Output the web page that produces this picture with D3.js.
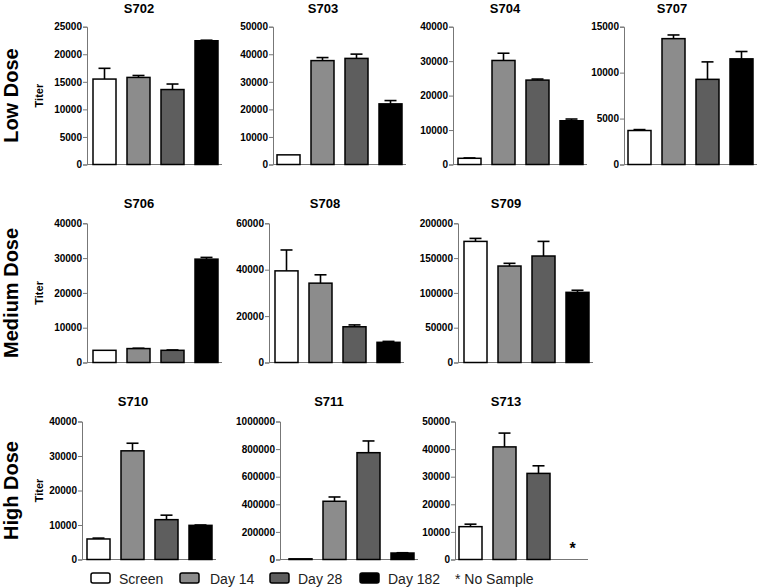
<!DOCTYPE html>
<html>
<head>
<meta charset="utf-8">
<script src="https://cdn.jsdelivr.net/npm/d3@7"></script>
<style>
  html, body { margin: 0; padding: 0; background: #fff; }
  svg { display: block; font-family: "Liberation Sans", Arial, sans-serif; }
</style>
</head>
<body>
<svg id="chart" width="760" height="587"></svg>
<script>
// ---------------- DATA ----------------
const groups = ["Screen", "Day 14", "Day 28", "Day 182"];
const subjects = ["S702", "S703", "S704", "S707", "S706", "S708", "S709", "S710", "S711", "S713"];
const doseLabels = ["Low Dose", "Medium Dose", "High Dose"];
const subjectRow = [0, 0, 0, 0, 1, 1, 1, 2, 2, 2];

const screenVals = [15500, 3500, 1800, 3700, 3500, 39500, 174000, 5950, 5000, 11900];
const day14Vals  = [15800, 37700, 30200, 13700, 4000, 34200, 138600, 31500, 422000, 40800];
const day28Vals  = [13600, 38500, 24500, 9270, 3500, 15400, 153000, 11550, 774000, 31200];
const day182Vals = [22450, 22000, 12700, 11500, 29700, 8700, 100800, 9900, 47000, null];

const screenErr = [1950, 0, 100, 100, 0, 9000, 4300, 250, 0, 900];
const day14Err  = [350, 1100, 2100, 400, 100, 3600, 3900, 2200, 31000, 5000];
const day28Err  = [1000, 1550, 300, 1900, 100, 800, 21000, 1300, 85000, 2750];
const day182Err = [100, 1200, 500, 800, 500, 400, 3000, 100, 2000, 0];

const yMaxVals  = [25000, 50000, 40000, 15000, 40000, 60000, 200000, 40000, 1000000, 50000];
const tickSteps = [5000, 10000, 10000, 5000, 10000, 20000, 50000, 10000, 200000, 10000];

const legendLabels = ["Screen", "Day 14", "Day 28", "Day 182"];
const noSampleNote = "* No Sample";

// ---------------- LAYOUT / STYLE ----------------
const fills = ["#ffffff", "#8c8c8c", "#5e5e5e", "#000000"];
const rowTop = [26.7, 223.3, 421.5];
const rowBottom = [164.5, 362.5, 559.5];
const titleY = [8, 203, 401];
const axisX = [87, 273, 453, 624, 87, 269, 458, 82, 280, 455];
const firstBarX = [93, 277, 458, 628, 93, 275, 464, 87, 289, 459];
const titleX = [139, 323, 505, 672, 139, 325, 506, 133, 329, 506];
const bandSpan = 125;

const svg = d3.select("#chart");
const seriesVals = [screenVals, day14Vals, day28Vals, day182Vals];
const seriesErr = [screenErr, day14Err, day28Err, day182Err];

// Row labels and Titer labels
doseLabels.forEach((lab, r) => {
  const cy = (rowTop[r] + rowBottom[r]) / 2;
  svg.append("text")
    .attr("transform", `translate(18,${cy}) rotate(-90)`)
    .attr("text-anchor", "middle")
    .attr("font-size", 20).attr("font-weight", "bold").attr("fill", "#000")
    .text(lab);
  svg.append("text")
    .attr("transform", `translate(43,${cy}) rotate(-90)`)
    .attr("text-anchor", "middle")
    .attr("font-size", 11).attr("font-weight", "bold").attr("fill", "#000")
    .text("Titer");
});

subjects.forEach((subj, i) => {
  const r = subjectRow[i];
  const y = d3.scaleLinear().domain([0, yMaxVals[i]]).range([rowBottom[r], rowTop[r]]);
  const x = d3.scaleBand().domain(groups)
    .range([firstBarX[i], firstBarX[i] + bandSpan])
    .paddingInner(11 / 34).paddingOuter(0);

  const g = svg.append("g");

  g.append("text")
    .attr("x", titleX[i]).attr("y", titleY[r])
    .attr("dy", "0.35em")
    .attr("text-anchor", "middle")
    .attr("font-size", 13).attr("font-weight", "bold")
    .text(subj);

  const yAxis = d3.axisLeft(y)
    .tickValues(d3.range(0, yMaxVals[i] + 1, tickSteps[i]))
    .tickFormat(d3.format("d"))
    .tickSize(4).tickPadding(1);
  const ag = g.append("g").attr("transform", `translate(${axisX[i]},0)`).call(yAxis);
  ag.select(".domain").attr("stroke", "#777").attr("stroke-width", 1);
  ag.selectAll(".tick line").attr("stroke", "#777");
  ag.selectAll(".tick text").attr("font-size", 10).attr("font-weight", "bold")
    .attr("fill", "#000").attr("font-family", "'Liberation Sans', Arial, sans-serif");

  const xEnd = x.range()[1] + 4;
  g.append("line")
    .attr("x1", axisX[i]).attr("x2", xEnd)
    .attr("y1", y(0)).attr("y2", y(0))
    .attr("stroke", "#777").attr("stroke-width", 1);

  groups.forEach((grp, k) => {
    const v = seriesVals[k][i];
    const cx = x(grp) + x.bandwidth() / 2;
    if (v === null) {
      g.append("text")
        .attr("x", cx).attr("y", y(0) - 6)
        .attr("text-anchor", "middle")
        .attr("font-size", 16).attr("font-weight", "bold")
        .text("*");
      return;
    }
    const e = seriesErr[k][i];
    if (e > 0) {
      g.append("line")
        .attr("x1", cx).attr("x2", cx)
        .attr("y1", y(v)).attr("y2", y(v + e))
        .attr("stroke", "#000").attr("stroke-width", 1.6);
      g.append("line")
        .attr("x1", cx - 6).attr("x2", cx + 6)
        .attr("y1", y(v + e)).attr("y2", y(v + e))
        .attr("stroke", "#000").attr("stroke-width", 1.6);
    }
    g.append("rect")
      .attr("x", x(grp)).attr("width", x.bandwidth())
      .attr("y", y(v)).attr("height", y(0) - y(v))
      .attr("fill", fills[k])
      .attr("stroke", "#000").attr("stroke-width", 1.5);
  });
});

// Legend
const legBoxX = [91, 180, 270, 360];
const legTextX = [119, 210, 298, 388];
legendLabels.forEach((lab, k) => {
  svg.append("rect")
    .attr("x", legBoxX[k]).attr("y", 573)
    .attr("width", 19).attr("height", 10)
    .attr("rx", 2).attr("ry", 2)
    .attr("fill", fills[k]).attr("stroke", "#000").attr("stroke-width", 1.5);
  svg.append("text")
    .attr("x", legTextX[k]).attr("y", 584)
    .attr("font-size", 14).attr("fill", "#222")
    .text(lab);
});
svg.append("text")
  .attr("x", 455).attr("y", 584)
  .attr("font-size", 14).attr("fill", "#222")
  .text(noSampleNote);
</script>
</body>
</html>
